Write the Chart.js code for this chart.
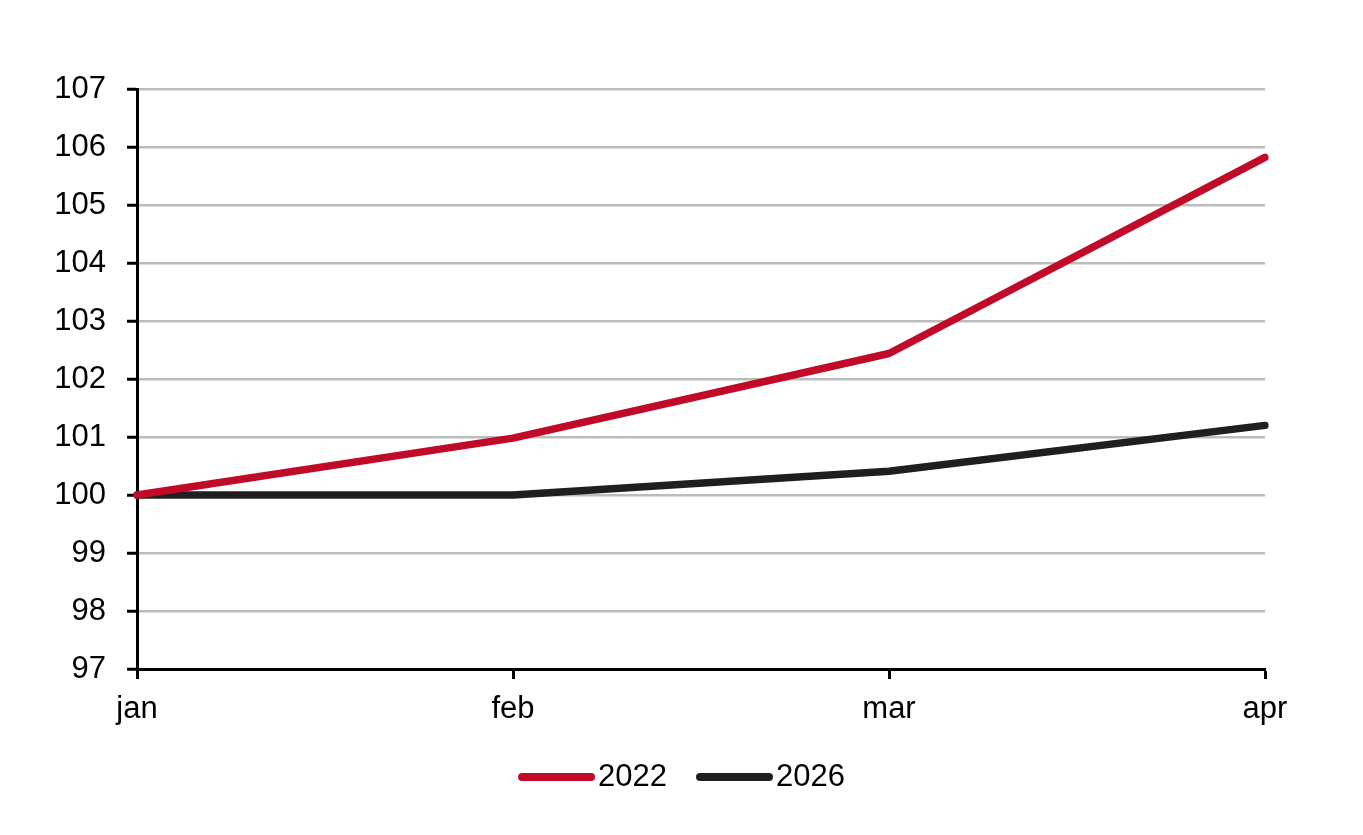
<!DOCTYPE html>
<html>
<head>
<meta charset="utf-8">
<script src="https://cdn.jsdelivr.net/npm/chart.js@4.4.0/dist/chart.umd.min.js"></script>
<style>
  html,body{margin:0;padding:0;background:#fff;}
  #wrap{width:1363px;height:835px;}
</style>
</head>
<body>
<div id="wrap"><canvas id="chart" width="1363" height="835"></canvas></div>
<script>
/* ====== data ====== */
const MONTHS = ["jan","feb","mar","apr"];
const S2022 = [100, 100.98, 102.44, 105.82];
const S2026 = [100, 100, 100.41, 101.2];
const Y_MIN = 97, Y_MAX = 107, Y_STEP = 1;

const FONT_FAMILY = "'Liberation Sans', Arial, sans-serif";
const FONT = {family:FONT_FAMILY, size:31};

/* legend: line + text, drawn under the plot (line sits right against the label) */
const lineLegend = {
  id:'lineLegend',
  afterDraw(chart){
    const ctx = chart.ctx;
    const sets = chart.data.datasets;
    const lineLen = 77, gap = 3, itemGap = 29, cy = 777;
    ctx.save();
    ctx.font = FONT.size + 'px ' + FONT_FAMILY;
    const widths = sets.map(d=>ctx.measureText(d.label).width);
    let total = 0;
    widths.forEach((w,i)=>{ total += lineLen + gap + w + (i ? itemGap : 0); });
    let x = chart.width/2 - total/2;
    sets.forEach((d,i)=>{
      ctx.strokeStyle = d.borderColor;
      ctx.lineWidth = 8;
      ctx.lineCap = 'round';
      ctx.beginPath();
      ctx.moveTo(x+4, cy);
      ctx.lineTo(x+lineLen-4, cy);
      ctx.stroke();
      ctx.fillStyle = '#000';
      ctx.textBaseline = 'middle';
      ctx.textAlign = 'left';
      ctx.fillText(d.label, x+lineLen+gap, cy);
      x += lineLen + gap + widths[i] + itemGap;
    });
    ctx.restore();
  }
};

new Chart(document.getElementById('chart'), {
  type:'line',
  data:{
    labels:MONTHS,
    datasets:[
      {label:'2022', data:S2022, borderColor:'#c00a27', backgroundColor:'#c00a27',
       borderWidth:7.5, pointRadius:0, tension:0, borderCapStyle:'round', borderJoinStyle:'round'},
      {label:'2026', data:S2026, borderColor:'#1f1f1f', backgroundColor:'#1f1f1f',
       borderWidth:7.5, pointRadius:0, tension:0, borderCapStyle:'round', borderJoinStyle:'round'}
    ]
  },
  options:{
    responsive:false, animation:false,
    layout:{padding:{top:89, right:98, left:0, bottom:106}},
    plugins:{
      tooltip:{enabled:false},
      legend:{display:false}
    },
    scales:{
      x:{
        offset:false,
        grid:{drawOnChartArea:false, drawTicks:true, tickLength:10, tickColor:'#000', tickWidth:3},
        border:{color:'#000', width:3},
        ticks:{color:'#000', font:FONT, padding:12, maxRotation:0},
        afterFit:s=>{ s.height = 60; }
      },
      y:{
        min:Y_MIN, max:Y_MAX,
        grid:{color:'#bcbcbc', lineWidth:2.5, tickLength:10, tickColor:'#000', tickWidth:3},
        border:{color:'#000', width:3},
        ticks:{stepSize:Y_STEP, color:'#000', font:FONT, padding:21},
        afterFit:s=>{ s.width = 137; }
      }
    }
  },
  plugins:[lineLegend]
});
</script>
</body>
</html>
